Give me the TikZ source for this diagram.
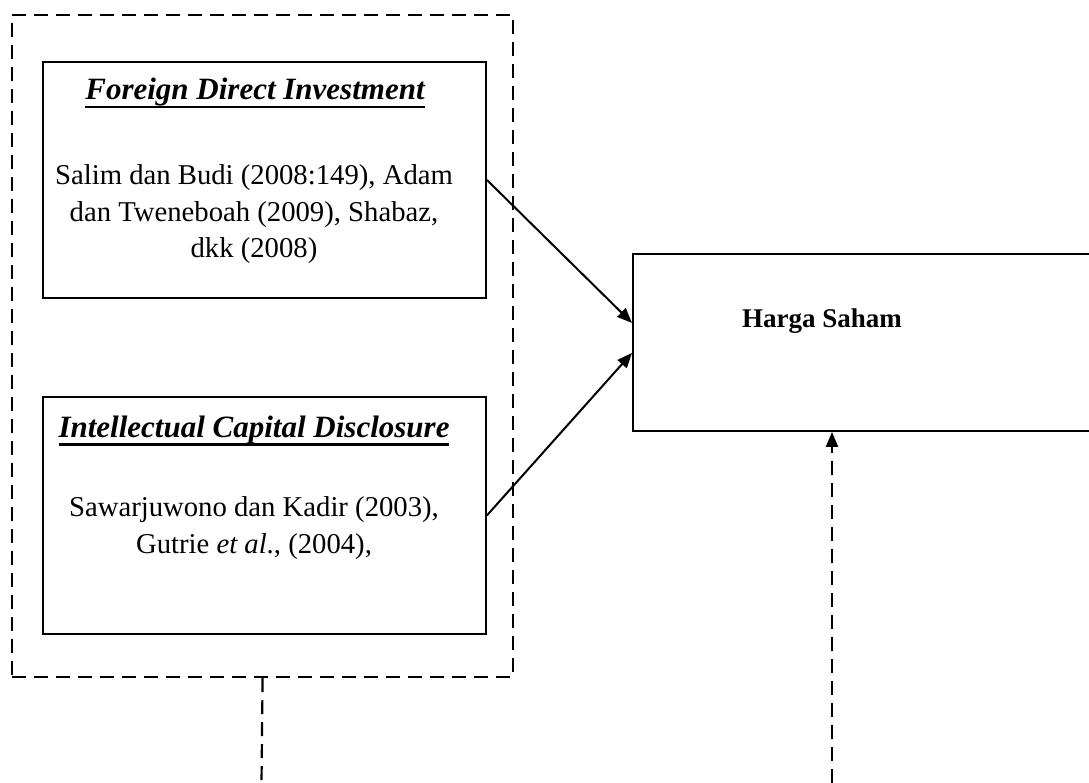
\documentclass[tikz,border=0pt]{standalone}
\usepackage{fontspec}
\setmainfont{Liberation Serif}
\usetikzlibrary{arrows.meta, positioning}
\newcommand{\titleline}[1]{\setbox0=\hbox{#1}\rlap{\rule[-8.5pt]{\wd0}{2.8pt}}\box0}

\begin{document}
\begin{tikzpicture}[x=1pt, y=-1pt,
  box/.style={draw, line width=1.9pt, inner sep=0pt},
  groupline/.style={line width=2.2pt, dash pattern=on 14pt off 8pt},
  link/.style={-{Triangle[length=15pt, width=12pt]}, line width=2pt},
  titletext/.style={font=\fontsize{31}{36}\selectfont\bfseries\itshape, anchor=base},
  bodytext/.style={font=\fontsize{28.7}{36.5}\selectfont, align=center, anchor=base}]
\useasboundingbox (0,0) rectangle (1089,783);
% --- Variabel independen ---
\node[box, groupline, anchor=north west, minimum width=501pt, minimum height=662pt] (grp) at (11,14) {};
\node[box, anchor=north west, minimum width=443pt, minimum height=236pt] (fdi) at (42,61) {};
\node[titletext] (fditit) at (255,100) {\titleline{Foreign Direct Investment}};
\node[bodytext] (fdiref) at (254,258) {Salim dan Budi (2008:149), Adam\\dan Tweneboah (2009), Shabaz,\\dkk (2008)};
\node[box, anchor=north west, minimum width=443pt, minimum height=237pt] (icd) at (42,396) {};
\node[titletext] (icdtit) at (254,437) {\titleline{Intellectual Capital Disclosure}};
\node[bodytext] (icdref) at (254,553) {Sawarjuwono dan Kadir (2003),\\Gutrie \textit{et al}., (2004),};
% --- Variabel dependen ---
\node[box, anchor=north west, minimum width=470pt, minimum height=177pt] (harga) at (632,253) {};
\node[font=\fontsize{27}{32}\selectfont\bfseries, anchor=base] (hargatit) at (822,328) {Harga Saham};
% --- Hubungan ---
\draw[link] (fdi.east) -- ([yshift=19.5pt]harga.west);
\draw[link] (icd.east) -- ([yshift=-10.5pt]harga.west);
\coordinate (grpend) at (261.5,783);
\draw[groupline] (grp.south) -- (grpend);
\coordinate (ctrl) at (832,783);
\draw[groupline, link] (ctrl) -- (ctrl |- harga.south);
\end{tikzpicture}
\end{document}
